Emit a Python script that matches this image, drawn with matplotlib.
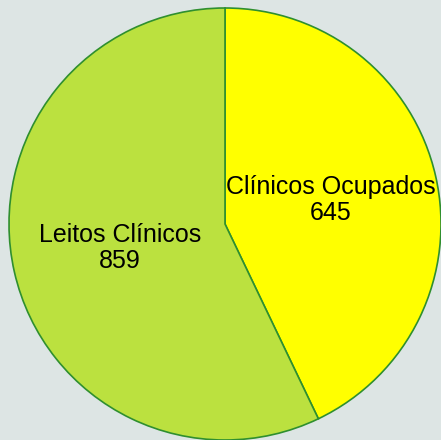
import matplotlib.pyplot as plt

labels = ["Clínicos Ocupados", "Leitos Clínicos"]
values = [645, 859]
colors = ["#ffff00", "#bbe13f"]

fig = plt.figure(figsize=(4.41, 4.40), dpi=100)
fig.patch.set_facecolor("#dde5e4")
ax = fig.add_axes([0, 0, 1, 1])
ax.set_facecolor("#dde5e4")

r = 216
texts = [f"{l}\n{v}" for l, v in zip(labels, values)]
wedges, txt = ax.pie(values, labels=texts, colors=colors, startangle=90,
                     counterclock=False, radius=1, labeldistance=0.5,
                     wedgeprops=dict(edgecolor="#2f8f2f", linewidth=1.2))
for t in txt:
    t.set_ha("center")
    t.set_va("center")
    t.set_fontsize(18)
    t.set_family(["Liberation Sans", "DejaVu Sans"])
    t.set_linespacing(1.1)

ax.set_xlim(-225 / r, (441 - 225) / r)
ax.set_ylim(-(440 - 224) / r, 224 / r)
ax.set_aspect("auto")
ax.axis("off")
fig.savefig("out.png", dpi=100, facecolor=fig.get_facecolor())
